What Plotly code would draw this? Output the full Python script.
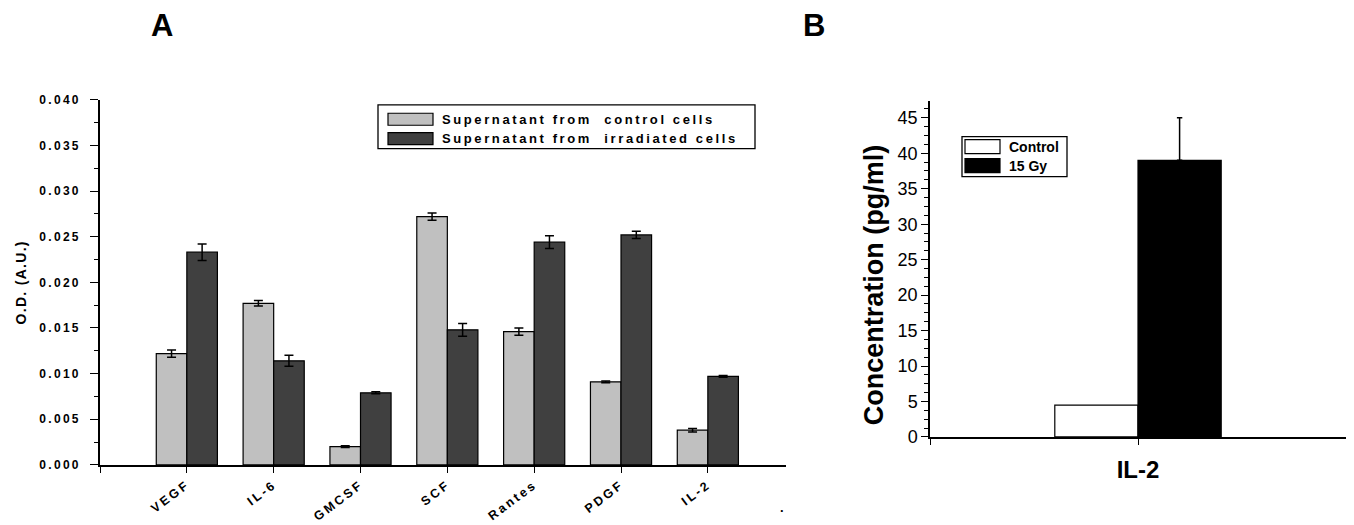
import plotly.graph_objects as go

# ---------------- data: panel A ----------------
categories = ["VEGF", "IL-6", "GMCSF", "SCF", "Rantes", "PDGF", "IL-2"]
control_od = [0.0122, 0.0177, 0.0020, 0.0272, 0.0146, 0.0091, 0.0038]
control_err = [0.0004, 0.0003, 0.0001, 0.0004, 0.0004, 0.0001, 0.0002]
irradiated_od = [0.0233, 0.0114, 0.0079, 0.0148, 0.0244, 0.0252, 0.0097]
irradiated_err = [0.0009, 0.0006, 0.0001, 0.0007, 0.0007, 0.0004, 0.0001]
series_a = ["Supernatant from  control cells", "Supernatant from  irradiated cells"]
od_ticks = [0.000, 0.005, 0.010, 0.015, 0.020, 0.025, 0.030, 0.035, 0.040]
od_tick_labels = ["0.000", "0.005", "0.010", "0.015", "0.020", "0.025", "0.030", "0.035", "0.040"]

# ---------------- data: panel B ----------------
b_categories = ["IL-2"]
b_control = [4.5]
b_15gy = [39.0]
b_15gy_err = [6.0]
series_b = ["Control", "15 Gy"]

# figure placement on the 1354x525 page (8px body margin)
XOFF, YOFF, YSCALE = 8, 14, 0.97
W, H = 1354 - 2 * XOFF, 525


def px(x):
    return min(max((x - XOFF) / W, 0), 1)


def py(y):
    return min(max(1 - ((y - YOFF) / YSCALE) / H, 0), 1)


def spaced(t, s):
    return f'<span style="letter-spacing:{s}px">{t}</span>'


BOLD = "Liberation Sans"
pos_a = [i + 1 for i in range(len(categories))]
pos_b = [i for i in range(len(b_categories))]

fig = go.Figure()

fig.add_trace(go.Bar(
    x=pos_a, y=control_od, width=0.352, offset=-0.352, name=series_a[0],
    marker=dict(color="#c0c0c0", line=dict(color="black", width=1.2)),
    error_y=dict(type="data", array=control_err, color="black", thickness=1.5, width=4.5),
    xaxis="x", yaxis="y", showlegend=False))
fig.add_trace(go.Bar(
    x=pos_a, y=irradiated_od, width=0.352, offset=0, name=series_a[1],
    marker=dict(color="#404040", line=dict(color="black", width=1.2)),
    error_y=dict(type="data", array=irradiated_err, color="black", thickness=1.5, width=4.5),
    xaxis="x", yaxis="y", showlegend=False))

fig.add_trace(go.Bar(
    x=pos_b, y=b_control, width=0.4, offset=-0.4, name=series_b[0],
    marker=dict(color="white", line=dict(color="black", width=1.2)),
    xaxis="x2", yaxis="y2", showlegend=False))
fig.add_trace(go.Bar(
    x=pos_b, y=b_15gy, width=0.4, offset=0, name=series_b[1],
    marker=dict(color="black", line=dict(color="black", width=1.2)),
    error_y=dict(type="data", symmetric=False, array=b_15gy_err, arrayminus=[0] * len(b_15gy_err),
                 color="black", thickness=1.5, width=2.7),
    xaxis="x2", yaxis="y2", showlegend=False))

axis_common = dict(showline=True, linecolor="black", linewidth=1.5, showgrid=False,
                   zeroline=False, ticks="outside", tickcolor="black", tickwidth=1.3)

fig.update_layout(
    width=W, height=H, autosize=False,
    margin=dict(l=0, r=0, t=0, b=0),
    paper_bgcolor="white", plot_bgcolor="white",
    barmode="overlay",
    font=dict(family=BOLD, color="black"),
    xaxis=dict(domain=[px(100), px(786)], range=[0, 7.9], anchor="y",
               tickmode="array", tickvals=[0] + pos_a,
               ticktext=[""] + [spaced(f"<b>{c}</b>", 2.6) for c in categories],
               tickangle=-37, ticklen=6, ticklabelstandoff=0,
               tickfont=dict(family=BOLD, size=12.5, color="black"), **axis_common),
    yaxis=dict(domain=[py(465), py(99)], range=[0, 0.04], anchor="x",
               tickmode="array", tickvals=od_ticks,
               ticktext=[spaced(f"<b>{t}</b>", 2.3) for t in od_tick_labels],
               ticklen=8, ticklabelstandoff=7,
               tickfont=dict(family=BOLD, size=12, color="black"),
               minor=dict(dtick=0.0025, tick0=0, ticks="outside", ticklen=4,
                          tickcolor="black", tickwidth=1.3),
               title=dict(text=spaced("<b>O.D. (A.U.)</b>", 1.3),
                          font=dict(family=BOLD, size=14, color="black"), standoff=9),
               **axis_common),
    xaxis2=dict(domain=[px(930), px(1346)], range=[-1, 1], anchor="y2",
                tickmode="array", tickvals=[-1] + pos_b + [1],
                ticktext=[""] + [f"<b>{c}</b>" for c in b_categories] + [""],
                ticklen=6, ticklabelstandoff=4,
                tickfont=dict(family=BOLD, size=24, color="black"), **axis_common),
    yaxis2=dict(domain=[py(437), py(100)], range=[0, 47.4], anchor="x2",
                tickmode="linear", tick0=0, dtick=5, ticklen=7,
                tickfont=dict(family=BOLD, size=18, color="black"),
                minor=dict(dtick=1.25, tick0=0, ticks="outside", ticklen=4,
                           tickcolor="black", tickwidth=1.3),
                **axis_common),
)

shapes = []
annotations = []

# y-axis title of panel B (placed to match the original, slightly below the axis centre)
annotations.append(dict(xref="paper", yref="paper", x=px(874), y=py(285), showarrow=False,
                        xanchor="center", yanchor="middle", textangle=-90,
                        text="<b>Concentration (pg/ml)</b>",
                        font=dict(family=BOLD, size=27, color="black")))

# legend A
shapes.append(dict(type="rect", xref="paper", yref="paper", x0=px(378), x1=px(755),
                   y0=py(148), y1=py(104), line=dict(color="black", width=1.3), fillcolor="white"))
for i, (col, yc) in enumerate([("#c0c0c0", 118.5), ("#404040", 138)]):
    shapes.append(dict(type="rect", xref="paper", yref="paper", x0=px(388), x1=px(433),
                       y0=py(yc + 6), y1=py(yc - 6), line=dict(color="black", width=1.2),
                       fillcolor=col))
    annotations.append(dict(xref="paper", yref="paper", x=px(440), y=py(yc), xanchor="left",
                            yanchor="middle", showarrow=False,
                            text=spaced(f"<b>{series_a[i]}</b>", 2.6),
                            font=dict(family=BOLD, size=13, color="black")))

# legend B
shapes.append(dict(type="rect", xref="paper", yref="paper", x0=px(962), x1=px(1067),
                   y0=py(176), y1=py(136), line=dict(color="black", width=1.3), fillcolor="white"))
for i, (col, yc) in enumerate([("white", 146), ("black", 165)]):
    shapes.append(dict(type="rect", xref="paper", yref="paper", x0=px(965), x1=px(1000),
                       y0=py(yc + 7), y1=py(yc - 7), line=dict(color="black", width=1.2),
                       fillcolor=col))
    annotations.append(dict(xref="paper", yref="paper", x=px(1007), y=py(yc), xanchor="left",
                            yanchor="middle", showarrow=False,
                            text=f"<b>{series_b[i]}</b>",
                            font=dict(family=BOLD, size=14, color="black")))

# stray dot label at the end of panel A's category axis
annotations.append(dict(xref="x", yref="paper", x=7.85, y=py(508), yanchor="middle",
                        showarrow=False,
                        text="<b>.</b>", font=dict(family=BOLD, size=13, color="black")))

# panel letters
annotations.append(dict(xref="paper", yref="paper", x=px(162), y=py(25), showarrow=False,
                        xanchor="center", yanchor="middle",
                        text="<b>A</b>", font=dict(family=BOLD, size=31, color="black")))
annotations.append(dict(xref="paper", yref="paper", x=px(814), y=py(25), showarrow=False,
                        xanchor="center", yanchor="middle",
                        text="<b>B</b>", font=dict(family=BOLD, size=31, color="black")))

fig.update_layout(shapes=shapes, annotations=annotations)

fig.write_html("out.html")
